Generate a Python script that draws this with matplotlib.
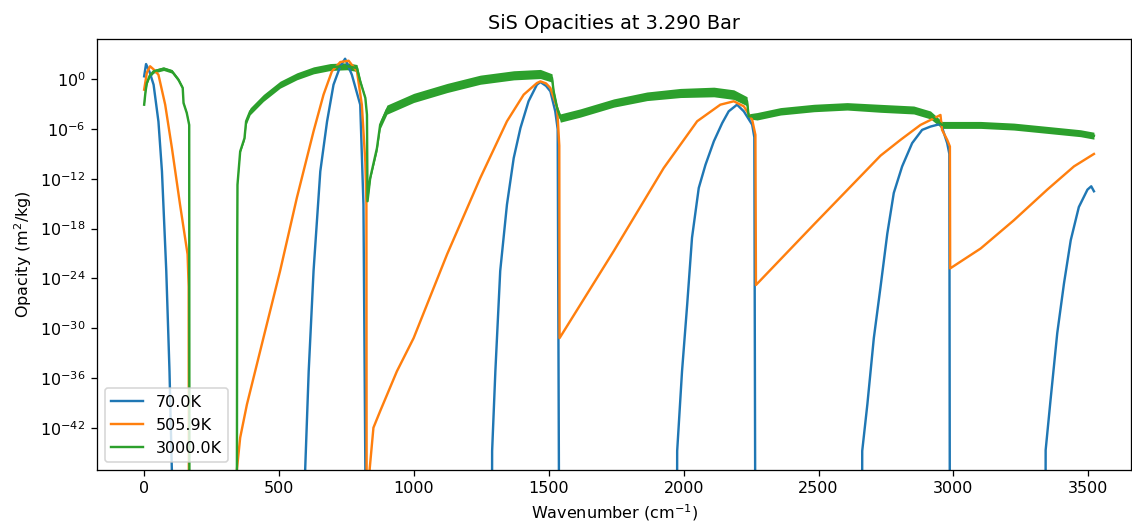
import numpy as np
import matplotlib
matplotlib.use("Agg")
import matplotlib.pyplot as plt
from matplotlib.ticker import NullLocator

########

title = "SiS Opacities at 3.290 Bar"
labels = ["70.0K", "505.9K", "3000.0K"]

# wavenumber (cm^-1) and log10 opacity (m^2/kg)
# -60 marks points below the bottom of the plot
x_70 = [0, 7, 20, 35, 53, 66, 82, 94, 103, 104,
        596, 597, 610, 628, 653, 678, 702, 727, 745, 770, 801, 813, 820, 821,
        1289, 1290, 1302, 1320, 1345, 1370, 1395, 1425, 1456, 1469, 1490, 1506, 1524, 1533, 1539,
        1975, 1976, 1994, 2013, 2031, 2056, 2081, 2112, 2143, 2167, 2198, 2223, 2254, 2262, 2266,
        2661, 2662, 2681, 2705, 2730, 2755, 2779, 2810, 2847, 2884, 2915, 2950, 2959, 2977, 2985, 2987,
        3341, 3342, 3360, 3385, 3410, 3435, 3465, 3497, 3511, 3521]
y_70 = [0.36, 1.84, 0.9, -0.65, -5.1, -11.1, -23.1, -35.2, -47.5, -60,
        -60, -47, -35.2, -23.1, -11.1, -5.1, -0.65, 1.57, 2.48, 0.55, -3.06, -15.1, -47, -60,
        -60, -44.8, -35.2, -23.1, -15.1, -9.5, -5.87, -2.65, -0.65, -0.33, -0.8, -1.45, -3.86, -6, -60,
        -60, -44.8, -35.2, -27.2, -19.1, -13.1, -10.3, -7.47, -5.27, -3.86, -3.06, -3.86, -5.47, -7, -60,
        -60, -44.8, -39.2, -31.2, -25, -18.6, -13.7, -10.5, -7.7, -6.1, -5.7, -5.4, -5.9, -7.7, -9, -60,
        -60, -44.7, -38.7, -30.6, -24.6, -19.4, -15.4, -13.3, -12.9, -13.5]

x_506 = [0, 10, 22, 35, 53, 78, 103, 133, 161, 165, 166,
         343, 344, 356, 381, 442, 504, 566, 628, 665, 696, 727, 758, 789, 807, 820, 824, 825,
         835, 836, 850, 875, 937, 999, 1123, 1246, 1345, 1407, 1456, 1469, 1490, 1506, 1531, 1539,
         1540, 1741, 1926, 2050, 2136, 2186, 2223, 2254, 2266,
         2268, 2483, 2730, 2804, 2878, 2928, 2952, 2958, 2977, 2987,
         2988, 3101, 3224, 3348, 3447, 3521]
y_506 = [-1.25, 0.8, 1.57, 1.2, 0.55, -3.06, -8.3, -15.1, -21.1, -25, -60,
         -60, -47, -43.2, -39.2, -31.2, -23.1, -14.3, -6.27, -1.85, 0.96, 2.08, 2.24, 0.96, -3.06, -10, -15.1, -60,
         -60, -47, -42, -40, -35.2, -31.2, -21.1, -11.9, -5.06, -1.85, -0.45, -0.25, -0.5, -1.05, -3.46, -8,
         -31.2, -20.7, -10.7, -5.06, -3.06, -2.65, -3.26, -4.87, -6.7,
         -24.8, -17.5, -9.2, -7.3, -5.5, -4.7, -4.3, -6.1, -7.3, -8.1,
         -22.8, -20.4, -17.0, -13.3, -10.5, -9.0]

x_3000 = [0, 5, 10, 20, 35, 72, 103, 127, 143, 146, 158, 167, 168,
          343, 344, 345, 346, 356, 372, 378, 393, 442, 504, 566, 628, 690, 752, 789, 801, 820, 826,
          828, 838, 863, 875, 900, 999, 1123, 1246, 1370, 1469, 1512, 1518, 1531,
          1543, 1617, 1741, 1864, 1988, 2112, 2186, 2235, 2241,
          2272, 2359, 2483, 2606, 2730, 2853, 2915, 2958, 3101, 3224, 3348, 3471, 3521]
y_3000 = [-3.06, -1.5, -0.45, 0.4, 0.96, 1.28, 0.96, -0.05, -1.05, -2.86, -4.06, -5.5, -60,
          -60, -45, -20, -12.7, -8.7, -7.1, -5.06, -3.86, -2.25, -0.65, 0.36, 1.08, 1.48, 1.57, 1.36, -0.24, -2.25, -4.27,
          -14.7, -11.9, -8.3, -5.47, -3.66, -2.25, -1.05, -0.05, 0.48, 0.64, 0.16, -1.45, -3.46,
          -4.67, -4.06, -2.86, -2.05, -1.65, -1.53, -1.85, -2.65, -4.46,
          -4.46, -3.86, -3.46, -3.26, -3.5, -3.7, -4.3, -5.5, -5.5, -5.7, -6.1, -6.5, -6.8]
# half-width (dex) of the fast line-by-line wiggle around the 3000K curve
band_3000 = [0.15, 0.2, 0.2, 0.22, 0.22, 0.22, 0.22, 0.22, 0.2, 0.15, 0.15, 0.1, 0.0,
             0.0, 0.0, 0.0, 0.05, 0.15, 0.2, 0.4, 0.42, 0.42, 0.42, 0.42, 0.42, 0.42, 0.42, 0.42, 0.3, 0.15, 0.1,
             0.1, 0.25, 0.4, 0.5, 0.55, 0.55, 0.55, 0.55, 0.55, 0.55, 0.5, 0.3, 0.3,
             0.5, 0.5, 0.5, 0.52, 0.55, 0.58, 0.58, 0.55, 0.3,
             0.45, 0.45, 0.45, 0.45, 0.48, 0.48, 0.48, 0.42, 0.42, 0.42, 0.42, 0.42, 0.42]

########

dpi = 115.2
fig = plt.figure(figsize=(1132 / dpi, 524 / dpi), dpi=dpi)
ax = fig.add_axes([0.0854, 0.1031, 0.9141, 0.8225])

ax.plot(x_70, 10.0 ** np.array(y_70), color="C0", label=labels[0])
ax.plot(x_506, 10.0 ** np.array(y_506), color="C1", label=labels[1])

g = np.array(y_3000)
b = np.array(band_3000)
ax.fill_between(x_3000, 10.0 ** (g - b), 10.0 ** (g + b), color="C2", lw=0)
ax.plot(x_3000, 10.0 ** g, color="C2", label=labels[2])

ax.set_yscale("log")
ax.set_xlim(-176, 3660)
ax.set_ylim(10 ** -47.1, 10 ** 4.86)
ax.set_yticks([10.0 ** k for k in range(0, -43, -6)])
ax.yaxis.set_minor_locator(NullLocator())

ax.set_title(title)
ax.set_xlabel(r"Wavenumber (cm$^{-1}$)")
ax.set_ylabel(r"Opacity (m$^2$/kg)")
ax.legend(loc="lower left")

plt.savefig("out.png", dpi=dpi)
